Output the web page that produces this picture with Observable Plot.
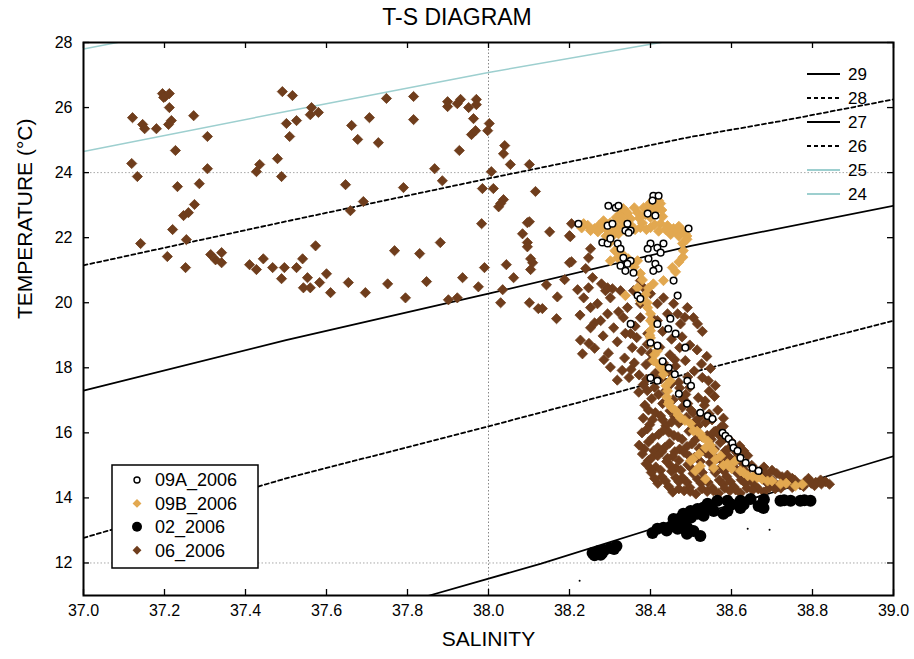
<!DOCTYPE html>
<html><head><meta charset="utf-8">
<script src="https://cdn.jsdelivr.net/npm/d3@7"></script>
<script src="https://cdn.jsdelivr.net/npm/@observablehq/plot@0.6"></script>
<style>
body{margin:0;background:#fff;font-family:"Liberation Sans",Arial,sans-serif;}
#wrap{position:relative;width:914px;height:659px;}
#title{position:absolute;left:0;top:6px;width:914px;text-align:center;font-size:23px;line-height:23px;color:#000;z-index:2;}
</style></head>
<body><div id="wrap"><div id="title">T-S DIAGRAM</div></div>
<script>
// ---------- axis ticks / grid ----------
const xTicks = [37.0,37.2,37.4,37.6,37.8,38.0,38.2,38.4,38.6,38.8,39.0];
const yTicks = [12,14,16,18,20,22,24,26,28];
const gridT = [24,12];
const gridS = [38.0];

// ---------- isopycnals (salinity, temperature) ----------
const sig24 = [[37.0,27.80],[37.25,28.40]];
const sig25 = [[37.0,24.65],[37.5,25.88],[38.0,27.08],[38.425,28.0],[38.6,28.38]];
const sig26 = [[37.0,21.15],[37.5,22.50],[38.0,23.82],[38.5,25.10],[38.72,25.58],[39.0,26.25]];
const sig27 = [[37.0,17.30],[37.5,18.85],[38.0,20.28],[38.5,21.75],[39.0,22.98]];
const sig28 = [[37.0,12.77],[37.5,14.60],[38.0,16.20],[38.5,17.85],[39.0,19.45]];
const sig29 = [[37.8,10.80],[37.854,11.0],[38.13,11.98],[38.5,13.42],[38.92,14.98],[39.0,15.28]];
const isoLabels = ["29","28","27","26","25","24"];

// ---------- series (salinity, temperature) ----------
const s06 = [
[37.121,25.69],[37.146,25.48],[37.151,25.35],[37.180,25.35],[37.195,26.43],[37.202,26.34],[37.212,26.43],[37.198,26.31],[37.212,26.00],[37.217,25.60],[37.210,25.48],[37.272,25.75],[37.306,25.11],[37.227,24.68],[37.119,24.28],[37.133,23.88],[37.306,24.12],[37.232,23.57],[37.286,23.66],[37.274,23.02],[37.247,22.68],[37.259,22.77],[37.220,22.25],[37.254,21.94],[37.141,21.82],[37.207,21.42],[37.252,21.08],[37.314,21.48],[37.326,21.32],[37.341,21.54],[37.341,21.23],[37.410,21.17],[37.427,21.02],[37.444,21.35],[37.467,21.08],[37.489,20.74],[37.496,21.08],[37.526,21.08],[37.541,21.35],[37.573,21.75],[37.553,20.77],[37.543,20.46],[37.560,20.46],[37.583,20.62],[37.600,20.89],[37.654,20.62],[37.751,20.58],[37.768,21.60],[37.491,26.49],[37.516,26.37],[37.501,25.51],[37.526,25.60],[37.509,25.11],[37.563,26.00],[37.560,25.78],[37.580,25.85],[37.479,24.43],[37.435,24.25],[37.427,24.03],[37.489,23.88],[37.662,25.45],[37.677,25.02],[37.706,25.69],[37.728,24.92],[37.748,26.28],[37.647,23.63],[37.659,22.83],[37.691,23.11],[37.696,20.31],[37.610,20.31],
[37.815,26.34],[37.815,25.63],[37.899,26.18],[37.899,26.03],[37.923,26.12],[37.931,26.25],[37.951,26.00],[37.970,26.25],[37.970,26.09],[37.963,25.66],[37.958,25.17],[37.968,25.29],[38.002,25.51],[37.998,25.29],[37.928,24.68],[37.867,24.12],[37.886,23.75],[37.790,23.54],[38.007,24.03],[37.985,23.51],[38.012,23.51],[38.037,23.17],[38.030,23.05],[38.025,22.95],[38.040,24.83],[38.037,24.58],[38.054,24.25],[38.101,24.25],[38.116,23.42],[37.983,22.43],[38.101,22.49],[38.084,22.12],[38.151,22.18],[38.096,21.85],[38.096,21.72],[38.104,21.35],[38.109,21.23],[38.104,21.02],[38.200,22.06],[38.200,21.23],[37.881,21.85],[37.830,21.51],[37.990,21.08],[38.044,21.17],[38.062,20.77],[37.936,20.77],[37.975,20.49],[38.035,20.40],[38.030,20.00],[38.101,20.00],[38.123,19.82],[38.170,20.18],[38.143,20.55],[38.188,20.71],[38.168,19.51],[37.847,20.65],[37.795,20.15],[37.901,20.09],[37.923,20.15],[38.096,22.46],[38.205,22.43],[38.202,22.03],[38.205,21.26],[38.220,20.40],[38.252,21.66],[38.247,21.38],[38.240,21.05],[38.257,20.77],[38.247,20.46],[38.279,20.58],[38.289,20.37],[38.306,20.43],[38.133,19.82],
[38.375,20.68],[38.383,20.46],[38.358,20.37],[38.400,20.28],[38.375,19.97],[38.417,19.97],[38.432,20.15],[38.457,19.97],[38.442,19.66],[38.467,19.66],[38.491,19.85],[38.506,19.54],[38.516,19.35],[38.474,19.35],[38.417,19.45],[38.375,19.54],[38.294,20.46],[38.301,20.15],[38.326,20.37],[38.343,19.85],[38.333,19.54],[38.294,19.66],[38.269,19.97],[38.277,19.45],[38.309,19.23],[38.351,19.05],[38.393,19.05],[38.252,19.85],[38.235,20.15],[38.252,19.23],
[38.226,19.62],[38.262,19.38],[38.321,19.72],[38.362,19.28],[38.405,19.52],[38.430,19.12],[38.485,19.55],[38.528,19.12],[38.283,18.98],[38.338,19.06],[38.478,18.95],
[38.227,18.85],[38.318,18.80],[38.366,18.93],[38.423,18.63],[38.452,18.88],[38.497,18.70],[38.262,18.60],
[38.248,18.75],[38.285,18.25],[38.355,18.62],[38.392,18.72],[38.472,18.62],[38.526,18.12],[38.432,18.15],[38.372,17.78],[38.492,17.72],[38.543,17.60],[38.330,17.92],[38.445,17.88],
[38.232,18.43],[38.296,18.45],[38.336,18.30],[38.378,18.52],[38.403,18.25],[38.448,18.40],[38.486,18.22],[38.539,18.35],[38.515,18.55],
[38.360,18.15],[38.400,18.45],[38.430,17.95],[38.460,18.25],[38.390,17.65],[38.450,17.50],[38.410,17.40],[38.480,17.05],[38.500,16.70],[38.460,16.50],[38.430,16.40],[38.510,16.35],[38.560,16.05],[38.580,16.20],[38.550,15.80],[38.620,15.60],[38.630,15.45],[38.680,14.95],[38.700,14.85],[38.750,14.60],[38.790,14.60],[38.820,14.55],
[38.301,18.02],[38.352,17.95],[38.389,18.10],[38.412,17.83],[38.462,18.05],[38.508,17.90],[38.548,17.98],
[38.318,17.62],[38.347,17.70],[38.382,17.48],[38.426,17.66],[38.470,17.55],[38.528,17.70],[38.560,17.45],[38.497,17.40],
[38.371,17.25],[38.403,17.05],[38.438,17.30],[38.456,17.02],[38.487,17.18],[38.518,17.08],[38.545,17.28],
[38.392,17.30],[38.420,17.18],[38.472,17.38],[38.535,16.98],[38.558,17.12],[38.395,16.70],[38.448,16.68],[38.492,16.90],[38.522,16.48],[38.545,16.58],[38.580,16.45],[38.405,16.40],[38.438,16.22],[38.470,16.30],[38.536,16.32],
[38.386,16.85],[38.412,16.62],[38.430,16.90],[38.478,16.78],[38.505,16.62],[38.533,16.85],[38.566,16.70],
[38.382,16.45],[38.398,16.25],[38.425,16.52],[38.452,16.33],[38.489,16.48],[38.518,16.22],[38.552,16.40],[38.574,16.18],
[38.379,16.00],[38.405,15.85],[38.432,16.08],[38.458,15.92],[38.478,15.80],[38.495,16.05],[38.527,15.88],[38.556,16.02],[38.583,15.83],
[38.392,16.12],[38.420,15.95],[38.445,16.02],[38.468,15.88],[38.512,15.80],[38.540,15.92],[38.570,15.92],[38.598,15.75],
[38.372,15.62],[38.395,15.72],[38.418,15.55],[38.447,15.68],[38.472,15.50],[38.502,15.66],[38.520,15.52],[38.548,15.60],[38.572,15.70],[38.596,15.55],
[38.385,15.50],[38.408,15.45],[38.435,15.55],[38.460,15.42],[38.490,15.58],[38.528,15.45],[38.558,15.50],[38.585,15.45],[38.612,15.40],
[38.380,15.35],[38.402,15.22],[38.428,15.42],[38.455,15.28],[38.483,15.40],[38.509,15.25],[38.538,15.38],[38.563,15.20],[38.588,15.32],[38.612,15.22],
[38.395,15.15],[38.418,15.30],[38.442,15.22],[38.470,15.15],[38.496,15.28],[38.523,15.12],[38.552,15.25],[38.578,15.12],[38.598,15.20],[38.625,15.10],[38.640,15.30],
[38.389,15.05],[38.413,14.95],[38.440,15.12],[38.463,14.92],[38.492,15.02],[38.520,14.90],[38.548,15.08],[38.575,14.95],[38.603,15.05],[38.627,14.92],[38.650,15.00],
[38.400,14.90],[38.425,14.85],[38.450,14.98],[38.475,14.85],[38.500,14.92],[38.528,14.78],[38.556,14.88],[38.582,14.82],[38.610,14.90],[38.635,14.80],[38.660,14.85],[38.685,14.75],[38.712,14.75],[38.738,14.70],
[38.402,14.78],[38.428,14.65],[38.452,14.82],[38.479,14.62],[38.505,14.75],[38.533,14.60],[38.560,14.78],[38.588,14.66],[38.615,14.76],[38.640,14.62],[38.668,14.70],[38.695,14.60],[38.725,14.65],
[38.410,14.60],[38.437,14.52],[38.462,14.62],[38.490,14.48],[38.516,14.58],[38.542,14.48],[38.570,14.55],[38.597,14.50],[38.624,14.56],[38.650,14.50],[38.677,14.58],[38.703,14.50],[38.730,14.52],[38.756,14.55],[38.782,14.50],[38.808,14.48],[38.832,14.50],
[38.418,14.45],[38.445,14.35],[38.470,14.50],[38.497,14.32],[38.525,14.45],[38.553,14.30],[38.580,14.42],[38.607,14.33],[38.634,14.45],[38.660,14.35],[38.688,14.46],[38.715,14.38],[38.742,14.44],[38.770,14.40],[38.797,14.45],[38.822,14.43],[38.842,14.42],
[38.470,14.28],[38.498,14.20],[38.527,14.28],[38.555,14.22],[38.583,14.30],[38.610,14.25],[38.638,14.30],[38.666,14.28],[38.694,14.32],[38.722,14.30],[38.750,14.32],[38.778,14.35],[38.805,14.38],
[38.455,14.18],[38.483,14.22],[38.512,14.12],[38.540,14.20],[38.568,14.14],[38.596,14.22],[38.622,14.15],[38.652,14.24],[38.680,14.18],[38.708,14.28]
];
const s09B = [
[38.235,22.43],[38.252,22.22],[38.272,22.37],[38.294,22.22],[38.309,22.12],[38.301,22.00],[38.326,22.74],[38.333,22.89],[38.326,22.52],[38.368,22.77],[38.383,22.92],[38.400,23.08],[38.412,23.20],[38.420,23.14],[38.375,22.31],[38.400,22.31],[38.425,22.43],[38.442,22.37],[38.457,22.28],[38.479,22.22],[38.486,22.12],[38.400,22.62],[38.479,21.82],[38.481,21.60],[38.301,21.29],[38.319,21.38],[38.368,21.29],[38.454,21.08],[38.432,20.68],[38.407,20.58],[38.368,20.46],[38.375,20.06],[38.393,19.85],[38.400,19.66],[38.407,19.35],[38.400,19.14],[38.343,22.74],[38.321,22.12],[38.284,22.52],[38.351,22.58],[38.388,22.71],[38.338,20.22],
[38.245,22.38],[38.262,22.28],[38.280,22.30],[38.300,22.45],[38.315,22.62],[38.318,22.30],[38.335,22.35],[38.350,22.40],[38.362,22.25],[38.390,22.25],[38.410,22.40],[38.415,22.95],[38.395,23.00],[38.425,23.05],[38.430,22.65],[38.437,22.25],[38.465,22.20],[38.470,22.35],[38.490,22.05],[38.360,22.92],[38.372,22.60],[38.410,22.80],[38.428,22.85],
[38.230,22.30],[38.270,22.18],[38.290,22.05],[38.310,22.25],[38.340,22.20],[38.380,22.45],[38.420,22.20],[38.450,22.10],[38.470,22.05],[38.490,21.95],[38.405,22.95],[38.395,22.80],[38.340,22.80],[38.330,22.60],[38.310,22.10],
[38.300,21.85],[38.312,21.60],[38.330,21.50],[38.345,21.35],[38.360,21.10],[38.375,20.90],[38.380,20.70],[38.395,20.45],[38.388,20.25],[38.392,20.00],[38.400,19.45],[38.398,19.00],[38.402,18.75],[38.410,18.40],[38.420,18.10],[38.432,17.80],[38.438,17.45],[38.440,17.10],[38.446,16.95],[38.452,16.78],[38.468,16.55],[38.485,16.38],[38.515,16.05],[38.530,15.85],[38.548,15.62],[38.520,15.35],[38.505,15.20],[38.560,15.18],[38.580,15.00],[38.600,14.90],[38.608,15.12],[38.630,14.78],[38.652,14.65],[38.675,14.58],[38.700,14.52],[38.735,14.45],[38.775,14.42],[38.480,21.40],[38.470,21.25],[38.462,20.95],
[38.400,18.92],[38.417,18.52],[38.407,18.22],[38.425,18.00],[38.449,17.60],[38.442,17.29],[38.444,16.89],[38.462,16.68],[38.474,16.46],[38.499,16.28],[38.506,16.06],[38.523,15.97],[38.541,15.75],[38.536,15.54],[38.556,15.45],[38.573,15.29],
[38.499,15.14],[38.523,14.98],[38.556,14.92],[38.590,15.05],[38.622,14.83],[38.640,14.68],[38.664,14.62],[38.689,14.52],[38.721,14.43],[38.758,14.37],[38.511,14.83],[38.536,14.58]
];
const s09A = [
[38.296,22.98],[38.314,22.92],[38.321,22.98],[38.407,23.29],[38.420,23.29],[38.405,23.14],[38.222,22.43],[38.294,22.37],[38.306,22.43],[38.343,22.43],[38.351,22.22],[38.338,22.22],[38.346,22.15],[38.393,22.74],[38.412,22.68],[38.494,22.28],
[38.281,21.85],[38.294,21.82],[38.301,21.97],[38.319,21.82],[38.326,21.66],[38.400,21.82],[38.417,21.69],[38.432,21.82],[38.425,21.54],[38.393,21.66],[38.333,21.38],[38.351,21.29],[38.326,21.14],[38.338,20.98],[38.343,21.20],[38.358,20.92],[38.395,21.35],[38.412,21.20],[38.420,21.05],[38.407,20.98],[38.457,20.68],[38.467,20.22],[38.368,20.22],[38.375,20.12],
[38.351,19.35],[38.417,19.35],[38.444,19.20],[38.449,19.51],[38.400,18.77],[38.417,18.68],[38.462,19.05],[38.486,18.62],[38.491,17.60],[38.400,17.69],[38.417,17.60],
[38.430,18.20],[38.445,18.00],[38.460,17.80],[38.500,17.45],[38.470,17.20],[38.490,16.90],
[38.523,16.62],[38.541,16.52],[38.553,16.43],[38.578,16.00],[38.585,15.91],[38.593,15.82],[38.602,15.69],[38.605,15.54],[38.615,15.45],[38.622,15.23],[38.635,15.08],[38.652,14.92],[38.667,14.83]
];
const s02 = [
[38.257,12.31],[38.272,12.37],[38.286,12.40],[38.301,12.46],[38.316,12.52],[38.277,12.25],[38.280,12.30],[38.310,12.43],[38.262,12.24],
[38.405,12.92],[38.417,13.05],[38.432,13.08],[38.449,13.11],[38.467,13.23],[38.474,13.38],[38.481,13.51],[38.499,13.60],[38.516,13.66],[38.506,12.98],[38.523,12.83],[38.491,13.08],[38.467,13.05],[38.457,13.35],
[38.440,13.00],[38.460,13.15],[38.480,13.25],[38.500,13.40],[38.520,13.55],[38.490,12.90],[38.530,13.70],[38.550,13.75],
[38.541,13.82],[38.565,13.91],[38.590,13.91],[38.622,13.91],[38.647,13.97],[38.556,13.60],[38.590,13.60],[38.622,13.69],[38.531,13.45],[38.580,13.51],[38.516,13.51],[38.600,13.80],[38.630,13.80],
[38.667,13.75],[38.679,13.69],[38.680,13.95],[38.721,13.91],[38.730,13.93],[38.746,13.91],[38.770,13.91],[38.780,13.93],[38.795,13.91]
];
const s02small = [[38.640,13.05],[38.694,13.02],[38.225,11.45]];
const seriesNames = ["09A_2006","09B_2006","02_2006","06_2006"];

// ---------- colours ----------
const BROWN = "#6f3d1c", ORANGE = "#e2a850", CYAN = "#9dcfcf";

const X = d => d[0], Y = d => d[1];
const isoStyle = {
  "24": {stroke: CYAN, strokeWidth: 1.5},
  "25": {stroke: CYAN, strokeWidth: 1.5},
  "26": {stroke: "#000", strokeWidth: 1.8, strokeDasharray: "4,3"},
  "27": {stroke: "#000", strokeWidth: 1.7},
  "28": {stroke: "#000", strokeWidth: 1.8, strokeDasharray: "4,3"},
  "29": {stroke: "#000", strokeWidth: 1.7}
};
const isoData = {"24": sig24, "25": sig25, "26": sig26, "27": sig27, "28": sig28, "29": sig29};

const chart = Plot.plot({
  width: 914, height: 659,
  marginLeft: 83, marginRight: 21, marginTop: 42, marginBottom: 64,
  style: {fontFamily: "'Liberation Sans', Arial, sans-serif", fontSize: "16px", background: "white", color: "black"},
  x: {domain: [37, 39]},
  y: {domain: [11, 28]},
  marks: [
    Plot.ruleY(gridT, {y: d => d, stroke: "#a8a8a8", strokeDasharray: "1.5,2"}),
    Plot.ruleX(gridS, {x: d => d, stroke: "#888", strokeDasharray: "1.5,2"}),
    ...Object.keys(isoData).map(k => Plot.line(isoData[k], {x: X, y: Y, clip: true, curve: "linear", ...isoStyle[k]})),
    Plot.dot(s06, {x: X, y: Y, symbol: "diamond2", r: 4.6, fill: BROWN, stroke: BROWN, strokeWidth: 0.8}),
    Plot.dot(s02, {x: X, y: Y, r: 6, fill: "#000"}),
    Plot.dot(s02small, {x: X, y: Y, r: 1, fill: "#000"}),
    Plot.dot(s09B, {x: X, y: Y, symbol: "diamond2", r: 4.6, fill: ORANGE, stroke: ORANGE, strokeWidth: 0.8}),
    Plot.dot(s09A, {x: X, y: Y, r: 3.3, fill: "white", stroke: "#000", strokeWidth: 1.5}),
    Plot.frame({stroke: "#000", strokeWidth: 2}),
    Plot.tickX(xTicks, {x: d => d, insetTop: 547, stroke: "#000", strokeWidth: 1.3}),
    Plot.tickX(xTicks, {x: d => d, insetBottom: 547, stroke: "#000", strokeWidth: 1.3}),
    Plot.tickY(yTicks, {y: d => d, insetRight: 804, stroke: "#000", strokeWidth: 1.3}),
    Plot.tickY(yTicks, {y: d => d, insetLeft: 804, stroke: "#000", strokeWidth: 1.3}),
    Plot.axisX(xTicks, {anchor: "bottom", tickSize: 0, tickPadding: 9, tickFormat: d => d.toFixed(1), fontSize: 16, label: null}),
    Plot.axisY(yTicks, {anchor: "left", tickSize: 0, tickPadding: 11, fontSize: 16, label: null}),
    Plot.text(["SALINITY"], {text: d => d, frameAnchor: "bottom", dy: 50, fontSize: 21}),
    Plot.text(["TEMPERATURE (°C)"], {text: d => d, frameAnchor: "left", dx: -58, rotate: -90, fontSize: 21})
  ]
});
chart.style.position = "absolute";
chart.style.left = "0px";
chart.style.top = "0px";
chart.style.zIndex = "1";
document.getElementById("wrap").appendChild(chart);

// ---------- legends ----------
const svg = d3.select(chart);
const lg = svg.append("g").attr("font-family", "'Liberation Sans', Arial, sans-serif").attr("text-anchor", "start");
isoLabels.forEach((lab, i) => {
  const yy = 74 + i * 24, st = isoStyle[lab];
  lg.append("line").attr("x1", 807).attr("x2", 840).attr("y1", yy).attr("y2", yy)
    .attr("stroke", st.stroke).attr("stroke-width", 2)
    .attr("stroke-dasharray", st.strokeDasharray || null);
  lg.append("text").attr("x", 848).attr("y", yy).attr("dy", "0.35em")
    .attr("font-size", 17).text(lab);
});
lg.append("rect").attr("x", 112).attr("y", 465).attr("width", 146).attr("height", 103)
  .attr("fill", "white").attr("stroke", "#000").attr("stroke-width", 1.5);
const diamond = d3.symbol(d3.symbolDiamond2, Math.PI * 16);
seriesNames.forEach((name, i) => {
  const yy = 480 + i * 23.4;
  if (i === 0) lg.append("circle").attr("cx", 137).attr("cy", yy).attr("r", 3).attr("fill", "white").attr("stroke", "#000").attr("stroke-width", 1.4);
  if (i === 1) lg.append("path").attr("d", diamond()).attr("transform", `translate(137,${yy})`).attr("fill", ORANGE);
  if (i === 2) lg.append("circle").attr("cx", 137).attr("cy", yy).attr("r", 5).attr("fill", "#000");
  if (i === 3) lg.append("path").attr("d", diamond()).attr("transform", `translate(137,${yy})`).attr("fill", BROWN);
  lg.append("text").attr("x", 155).attr("y", yy).attr("dy", "0.35em").attr("font-size", 18).text(name);
});
</script>
</body></html>
